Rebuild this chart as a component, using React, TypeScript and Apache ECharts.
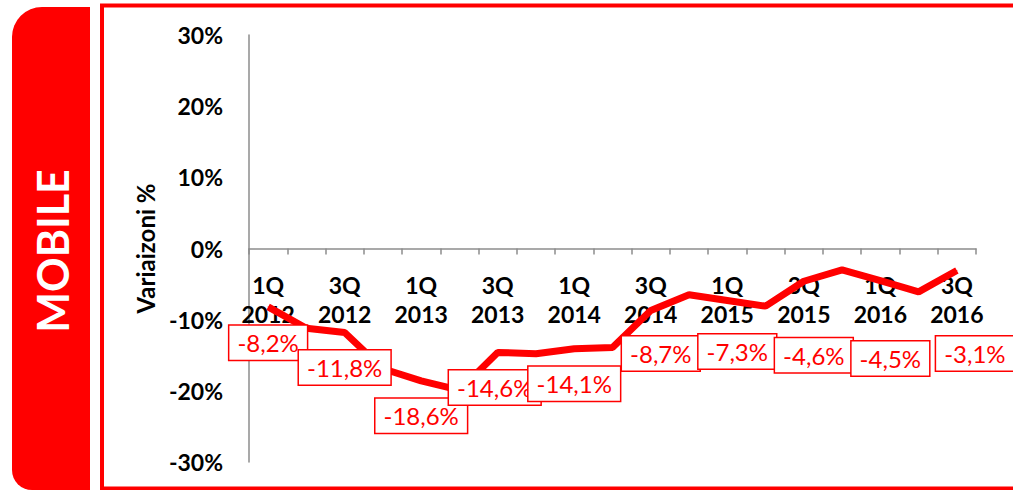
import React, { useEffect, useRef } from "react";
import * as echarts from "echarts";

const categories = [
  "1Q 2012", "2Q 2012", "3Q 2012", "4Q 2012",
  "1Q 2013", "2Q 2013", "3Q 2013", "4Q 2013",
  "1Q 2014", "2Q 2014", "3Q 2014", "4Q 2014",
  "1Q 2015", "2Q 2015", "3Q 2015", "4Q 2015",
  "1Q 2016", "2Q 2016", "3Q 2016",
];
const values = [
  -8.2, -11.2, -11.8, -16.9,
  -18.6, -19.9, -14.6, -14.8,
  -14.1, -13.9, -8.7, -6.5,
  -7.3, -8.1, -4.6, -3.0,
  -4.5, -6.1, -3.1,
];
const labeledIdx = [0, 2, 4, 6, 8, 10, 12, 14, 16, 18];
const labelOffsets: Record<number, [number, number]> = {
  0: [0, 36], 2: [0, 35], 4: [0, 35], 6: [-3, 35], 8: [0, 35],
  10: [10, 43], 12: [10, 51], 14: [10, 74], 16: [10, 78], 18: [18, 83],
};
const yTicks = { min: -30, max: 30, interval: 10 };
const panelTitle = "MOBILE";
const yAxisTitle = "Variaizoni %";

const RED = "#ff0000";
const FONT = "Lato, 'Liberation Sans', sans-serif";
const GRID = { left: 249, right: 37, top: 35, bottom: 28 };
const PLOT_H = 490 - GRID.top - GRID.bottom;
const zeroOffset = -PLOT_H * (0 - yTicks.min) / (yTicks.max - yTicks.min);

export default function App() {
  const ref = useRef<HTMLDivElement>(null);
  useEffect(() => {
    if (!ref.current) return;
    const chart = echarts.init(ref.current, null, { renderer: "svg" });
    const data = values.map((v, i) => ({
      value: v,
      label: { show: labeledIdx.includes(i) },
    }));
    chart.setOption({
      animation: false,
      backgroundColor: "#ffffff",
      grid: { ...GRID, containLabel: false, outerBoundsMode: "none" },
      graphic: [
        {
          type: "rect",
          shape: { x: 12, y: 7, width: 78, height: 483, r: [30, 0, 0, 20] },
          style: { fill: RED },
          silent: true,
        },
        {
          type: "text",
          x: 52,
          y: 251,
          rotation: Math.PI / 2,
          style: {
            text: panelTitle,
            fill: "#ffffff",
            font: `bold 43px ${FONT}`,
            align: "center",
            verticalAlign: "middle",
          },
          silent: true,
        },
        {
          type: "rect",
          shape: { x: 102, y: 5.5, width: 960, height: 483 },
          style: { fill: "none", stroke: RED, lineWidth: 4 },
          silent: true,
        },
      ],
      xAxis: {
        type: "category",
        data: categories,
        boundaryGap: true,
        position: "bottom",
        offset: zeroOffset,
        axisLine: { onZero: false, lineStyle: { color: "#8c8c8c", width: 1.5 } },
        axisTick: { show: true, interval: 0, length: 6, lineStyle: { color: "#8c8c8c", width: 1.5 } },
        axisLabel: {
          interval: 1,
          margin: 22,
          color: "#000",
          fontFamily: FONT,
          fontWeight: "bold",
          fontSize: 23,
          lineHeight: 29,
          formatter: (s: string) => s.replace(" ", "\n"),
        },
        splitLine: { show: false },
      },
      yAxis: {
        type: "value",
        min: yTicks.min,
        max: yTicks.max,
        interval: yTicks.interval,
        name: yAxisTitle,
        nameLocation: "middle",
        nameRotate: 90,
        nameGap: 92,
        nameTextStyle: { color: "#000", fontFamily: FONT, fontWeight: "bold", fontSize: 24 },
        axisLine: { show: true, lineStyle: { color: "#8c8c8c", width: 1.5 } },
        axisTick: { show: false },
        splitLine: { show: false },
        axisLabel: {
          margin: 26,
          color: "#000",
          fontFamily: FONT,
          fontWeight: "bold",
          fontSize: 23,
          formatter: "{value}%",
        },
      },
      series: [
        {
          type: "line",
          data,
          z: 3,
          symbol: "circle",
          symbolSize: 1,
          showSymbol: true,
          showAllSymbol: true,
          itemStyle: { color: RED },
          lineStyle: { color: RED, width: 7 },
          label: {
            position: "inside",
            color: RED,
            fontFamily: FONT,
            fontSize: 24,
            backgroundColor: "#ffffff",
            borderColor: RED,
            borderWidth: 1.5,
            padding: [6, 8, 4, 8],
            formatter: (p: any) => p.value.toFixed(1).replace(".", ",") + "%",
          },
          labelLayout: (params: any) => {
            const off = labelOffsets[params.dataIndex] || [0, 35];
            return { dx: off[0], dy: off[1], hideOverlap: false };
          },
        },
      ],
    });
    return () => chart.dispose();
  }, []);
  return (
    <div
      ref={ref}
      style={{ position: "fixed", left: 0, top: 0, width: 1013, height: 490 }}
    />
  );
}
